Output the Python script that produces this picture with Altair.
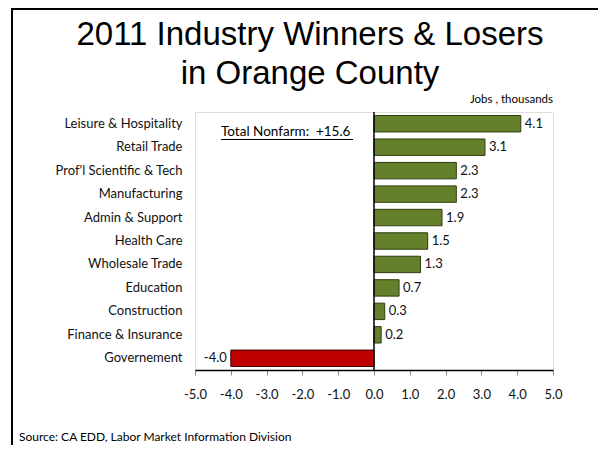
import altair as alt
import pandas as pd

categories = ["Leisure & Hospitality", "Retail Trade", "Prof'l Scientific & Tech",
              "Manufacturing", "Admin & Support", "Health Care", "Wholesale Trade",
              "Education\u00a0", "Construction", "Finance & Insurance", "Governement"]
values = [4.1, 3.1, 2.3, 2.3, 1.9, 1.5, 1.3, 0.7, 0.3, 0.2, -4.0]
x_ticks = [-5, -4, -3, -2, -1, 0, 1, 2, 3, 4, 5]
title_lines = ["2011 Industry Winners & Losers", "in Orange County"]
units_label = "Jobs , thousands"
total_label = "Total Nonfarm:\u00a0\u00a0+15.6"
source_label = "Source: CA EDD, Labor Market Information Division"

df = pd.DataFrame({"industry": categories, "jobs": values})
df["sign"] = ["neg" if v < 0 else "pos" for v in values]

W, H = 358, 258
LBL_FONT = "Lato"
FS = 13

x_scale = alt.Scale(domain=[-5, 5], nice=False)
x_axis = alt.Axis(values=x_ticks, title=None, grid=False,
                  labelExpr="replace(format(datum.value, '.1f'), '\u2212', '-')",
                  labelOverlap=False, labelBound=False, labelFlush=False,
                  domainColor="black", domainWidth=1.5, tickColor="#8c8c8c",
                  tickSize=5, labelPadding=13, labelFontSize=FS,
                  labelFont=LBL_FONT, labelColor="#111")
y_scale = alt.Scale(paddingInner=0.3, paddingOuter=0.15)
y_axis = alt.Axis(title=None, ticks=False, domain=False, grid=False,
                  labelPadding=13, labelFontSize=FS, labelFont=LBL_FONT,
                  labelColor="#111", labelLimit=300)
x_enc = alt.X("jobs:Q", scale=x_scale, axis=x_axis)
y_enc = alt.Y("industry:N", sort=categories, scale=y_scale, axis=y_axis)

base = alt.Chart(df).transform_calculate(
    lbl="replace(format(datum.jobs, '.1f'), '\u2212', '-')")

bars = base.mark_bar(strokeWidth=1).encode(
    x=x_enc,
    y=y_enc,
    color=alt.Color("sign:N", scale=alt.Scale(domain=["pos", "neg"], range=["#64802A", "#C00000"]), legend=None),
    stroke=alt.Stroke("sign:N", scale=alt.Scale(domain=["pos", "neg"], range=["#2f3d12", "#3a0000"]), legend=None),
)

pos_lbl = base.transform_filter(alt.datum.jobs >= 0).mark_text(
    align="left", baseline="middle", dx=4, fontSize=FS, font=LBL_FONT, color="#111"
).encode(x=x_enc, y=y_enc, text="lbl:N")

neg_lbl = base.transform_filter(alt.datum.jobs < 0).mark_text(
    align="right", baseline="middle", dx=-4, fontSize=FS, font=LBL_FONT, color="#111"
).encode(x=x_enc, y=y_enc, text="lbl:N")

zero = alt.Chart(pd.DataFrame({"jobs": [0]})).mark_rule(color="black", strokeWidth=1.5).encode(
    x=x_enc, y=alt.value(0), y2=alt.value(H))

ann = pd.DataFrame({"t": [0]})

def txt(text, x, y, size, font, align="center", color="black"):
    return alt.Chart(ann).mark_text(align=align, baseline="alphabetic", fontSize=size,
                                    font=font, color=color, text=text).encode(
        x=alt.value(x), y=alt.value(y))

title1 = txt(title_lines[0], 115, -67, 33, "Liberation Sans")
title2 = txt(title_lines[1], 115, -28, 33, "Liberation Sans")
units = txt(units_label, W, -9, 11.5, LBL_FONT, align="right")
total = txt(total_label, 26, 24, 13.5, LBL_FONT, align="left")
underline = alt.Chart(ann).mark_rule(color="black", strokeWidth=1.2).encode(
    x=alt.value(26), x2=alt.value(158), y=alt.value(27.5))
source = txt(source_label, -176, 329, 12, LBL_FONT, align="left")

frame_left = alt.Chart(ann).mark_rule(color="black", strokeWidth=2).encode(
    x=alt.value(-183), y=alt.value(-103), y2=alt.value(H + 80))
frame_top = alt.Chart(ann).mark_rule(color="black", strokeWidth=2).encode(
    x=alt.value(-184), x2=alt.value(W + 60), y=alt.value(-103))

chart = alt.layer(bars, pos_lbl, neg_lbl, zero, title1, title2, units, total, underline,
                  source, frame_left, frame_top).properties(
    width=W, height=H,
    autosize=alt.AutoSizeParams(type="none"),
    padding={"left": 187, "top": 104, "right": 45, "bottom": 75},
).configure_view(stroke="#a6a6a6", strokeWidth=1).configure(background="white")

chart.save("out.html", embed_options={"renderer": "svg", "actions": False})
